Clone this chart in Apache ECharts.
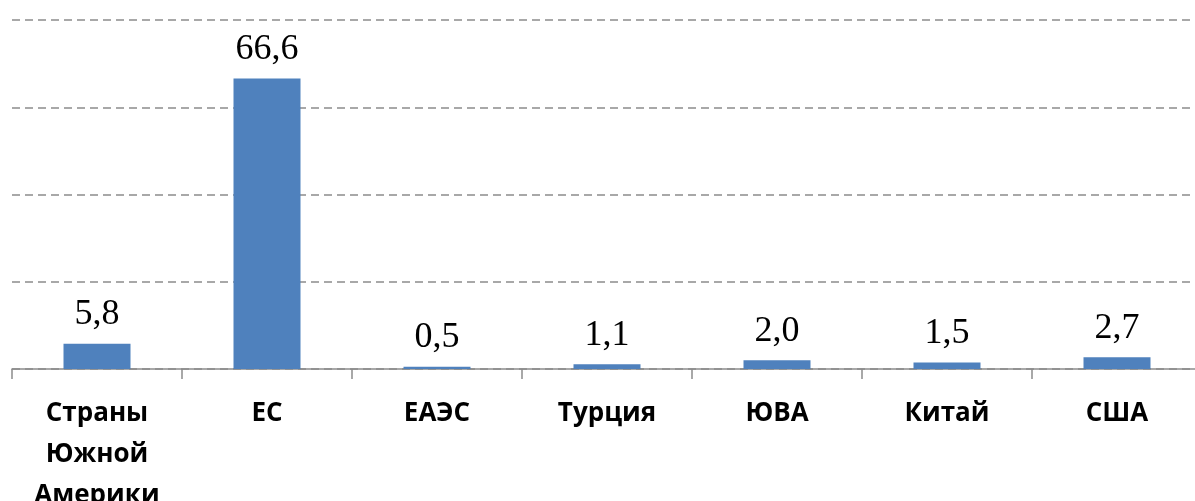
<!DOCTYPE html>
<html><head><meta charset="utf-8">
<script src="https://cdn.jsdelivr.net/npm/echarts@6/dist/echarts.min.js"></script>
<style>html,body{margin:0;padding:0;background:#fff}#c{width:1195px;height:501px}</style>
</head><body><div id="c"></div>
<script>
const categories = ['Страны\nЮжной\nАмерики', 'ЕС', 'ЕАЭС', 'Турция', 'ЮВА', 'Китай', 'США'];
const values = [5.8, 66.6, 0.5, 1.1, 2.0, 1.5, 2.7];
const yMin = 0, yMax = 80, yInterval = 20;

const chart = echarts.init(document.getElementById('c'), null, {renderer: 'canvas'});
chart.setOption({
  animation: false,
  grid: {left: 12, top: 20, width: 1190, height: 349, containLabel: false, outerBoundsMode: 'none'},
  xAxis: {
    type: 'category', data: categories,
    axisLine: {lineStyle: {color: '#8c8c8c', width: 1.5}},
    axisTick: {show: true, length: 10, lineStyle: {color: '#8c8c8c', width: 1.5}},
    axisLabel: {fontFamily: 'Open Sans', fontWeight: 700, fontSize: 26, color: '#000', lineHeight: 41, margin: 24, interval: 0}
  },
  yAxis: {
    type: 'value', min: yMin, max: yMax, interval: yInterval,
    axisLabel: {show: false}, axisLine: {show: false}, axisTick: {show: false},
    splitLine: {lineStyle: {color: '#8c8c8c', type: [8, 5], width: 1.5}}
  },
  series: [{
    type: 'bar', data: values, barWidth: 67,
    itemStyle: {color: '#4F81BD'},
    label: {show: true, position: 'top', distance: 11, fontFamily: 'Liberation Serif', fontSize: 36, color: '#000',
      formatter: p => p.value.toFixed(1).replace('.', ',')}
  }]
});
</script></body></html>
